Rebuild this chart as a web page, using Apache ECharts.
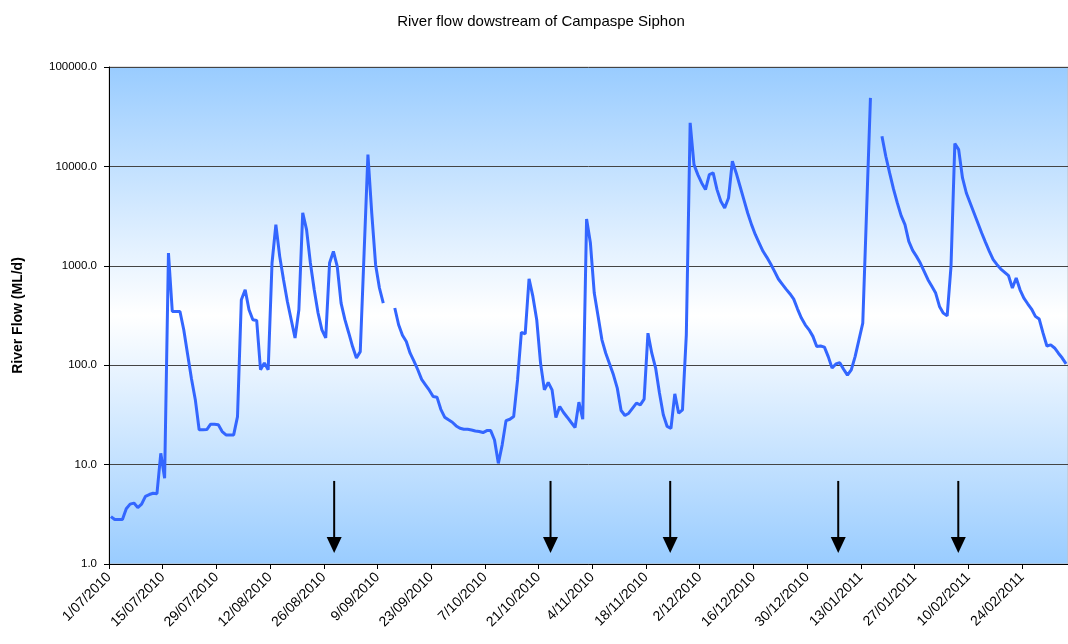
<!DOCTYPE html>
<html>
<head>
<meta charset="utf-8">
<script src="https://cdn.jsdelivr.net/npm/echarts@6/dist/echarts.min.js"></script>
<style>
  html, body { margin: 0; padding: 0; background: #fff; }
  #chart { width: 1068px; height: 644px; }
</style>
</head>
<body>
<div id="chart"></div>
<script>
// ---- data ----
const titleText = 'River flow dowstream of Campaspe Siphon';
const yAxisName = 'River Flow (ML/d)';
const startDate = '2010-07-01';          // first day of the record
const axisDays = 250;                   // days covered by the x axis
const tickEveryDays = 14;
// daily river flow (ML/d), one value per day starting 1/07/2010; null = missing
const flow = [
  3.0, 2.8, 2.8, 2.8, 3.6, 4.0, 4.1, 3.7, 4.0, 4.8,
  5.0, 5.15, 5.1, 13.0, 7.3, 1345, 347, 347, 347, 226,
  128, 73, 45, 22.4, 22.4, 22.5, 25.5, 25.5, 25.2, 21.5,
  19.9, 19.9, 19.9, 30.4, 456, 574, 361, 287, 282, 90,
  105, 90, 1067, 2594, 1244, 724, 438, 287, 188, 361,
  3404, 2310, 1067, 574, 335, 227, 188, 1067, 1397, 986,
  422, 287, 211, 154, 118, 137, 1346, 13150, 3370, 1026,
  598, 422, null, null, 376, 255, 200, 173, 132, 110,
  90, 72, 63.5, 56, 48.4, 47.7, 36, 30, 28.2, 26.7,
  24.5, 23.2, 22.7, 22.7, 22.3, 21.8, 21.5, 21.0, 22.0, 22.0,
  17.7, 10.3, 15.8, 27.7, 28.6, 30.5, 71, 214, 207, 741,
  492, 287, 105, 56.5, 67, 56.5, 29.8, 38.4, 33.4, 29.8,
  26.5, 23.6, 42.5, 28.6, 2958, 1695, 532, 310, 180, 132,
  103, 80, 58.8, 35, 31.2, 32.9, 37, 41.5, 39.9, 45.5,
  210, 132, 93.5, 52.4, 31.7, 24.2, 23.2, 51.5, 32.9, 35.5,
  202, 27400, 10420, 8270, 6820, 5840, 8270, 8600, 5840, 4455,
  3820, 4810, 11260, 8600, 6310, 4630, 3400, 2594, 2057, 1695,
  1399, 1216, 1042, 879, 736, 655, 583, 524, 462, 367,
  298, 255, 227, 195, 154, 156, 152, 122, 93.5, 103,
  106, 91, 79.4, 89.9, 122, 180, 265, 3615, 48950, null,
  null, 20100, 12650, 8600, 5930, 4290, 3197, 2594, 1762, 1430,
  1244, 1067, 879, 724, 621, 532, 390, 334, 314, 986,
  16980, 14760, 7650, 5400, 4290, 3400, 2697, 2138, 1721, 1399,
  1152, 1026, 927, 859, 795, 597, 753, 574, 473, 415,
  367, 310, 291, 210, 156, 160, 149, 132, 118, 103
];
// down-arrows drawn on the chart (days after 1/07/2010) and their vertical extent (ML/d)
const arrowDays = [58.7, 115.1, 146.3, 190.1, 221.4];
const arrowTop = 6.85;
const arrowTip = 1.29;
const yMin = 1, yMax = 100000;

// ---- helpers ----
const t0 = Date.parse(startDate + 'T00:00:00Z');
function dayLabel(v) {
  if (Math.abs(v % tickEveryDays) > 1e-6) return '';
  const d = new Date(t0 + v * 86400000);
  const mm = String(d.getUTCMonth() + 1).padStart(2, '0');
  return d.getUTCDate() + '/' + mm + '/' + d.getUTCFullYear();
}
// each day sits in the middle of its one-day slot (as in the source chart)
const seriesData = flow.map((v, i) => [i + 0.5, v]);

const font = "'Liberation Sans', Arial, sans-serif";
const chart = echarts.init(document.getElementById('chart'), null, { renderer: 'canvas' });
chart.setOption({
  animation: false,
  backgroundColor: '#ffffff',
  title: {
    text: titleText,
    left: 536, top: 9, textAlign: 'center',
    textStyle: { fontFamily: font, fontSize: 15, fontWeight: 'normal', color: '#000' }
  },
  grid: {
    left: 109, right: 0, top: 67, bottom: 80,
    show: true,
    borderColor: '#c0c0c0', borderWidth: 1,
    backgroundColor: {
      type: 'linear', x: 0, y: 0, x2: 0, y2: 1,
      colorStops: [
        { offset: 0, color: '#99CCFF' },
        { offset: 0.5, color: '#FFFFFF' },
        { offset: 1, color: '#99CCFF' }
      ]
    }
  },
  xAxis: {
    type: 'value',
    min: 0, max: axisDays, interval: tickEveryDays,
    axisLine: { show: true, lineStyle: { color: '#000', width: 1 } },
    axisTick: { show: true, length: 5, inside: false, lineStyle: { color: '#000' } },
    splitLine: { show: false },
    axisLabel: {
      rotate: 45, margin: 11, formatter: dayLabel,
      showMaxLabel: false,
      fontFamily: font, fontSize: 14, color: '#000'
    }
  },
  yAxis: {
    type: 'log', logBase: 10, min: yMin, max: yMax,
    name: yAxisName, nameLocation: 'middle', nameRotate: 90, nameGap: 84,
    nameTextStyle: { fontFamily: font, fontSize: 14, fontWeight: 'bold', color: '#000' },
    axisLine: { show: true, lineStyle: { color: '#000', width: 1 } },
    axisTick: { show: true, length: 5, lineStyle: { color: '#000' } },
    splitLine: { show: true, lineStyle: { color: '#444', width: 1 } },
    axisLabel: {
      margin: 12, fontFamily: font, fontSize: 11.5, color: '#000',
      formatter: v => Number(v).toFixed(1)
    }
  },
  series: [
    {
      type: 'line',
      data: seriesData,
      showSymbol: false,
      connectNulls: false,
      lineStyle: { color: '#3366FF', width: 3 },
      itemStyle: { color: '#3366FF' },
      z: 3
    },
    {
      type: 'custom',
      data: arrowDays.map(d => [d, arrowTop, arrowTip]),
      encode: { x: 0, y: [1, 2] },
      z: 4,
      renderItem: function (params, api) {
        const x = api.value(0);
        const top = api.coord([x, api.value(1)]);
        const tip = api.coord([x, api.value(2)]);
        const hw = 7.5, hh = 16;
        return {
          type: 'group',
          children: [
            { type: 'line', shape: { x1: top[0], y1: top[1], x2: tip[0], y2: tip[1] - hh + 1 },
              style: { stroke: '#000', lineWidth: 2 } },
            { type: 'polygon', shape: { points: [[tip[0] - hw, tip[1] - hh], [tip[0] + hw, tip[1] - hh], [tip[0], tip[1]]] },
              style: { fill: '#000' } }
          ]
        };
      }
    }
  ]
});
</script>
</body>
</html>
